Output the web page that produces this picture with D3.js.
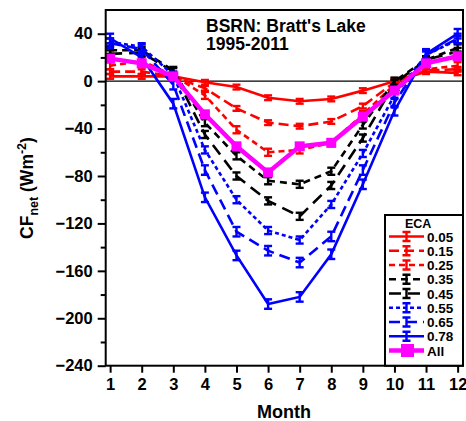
<!DOCTYPE html>
<html>
<head>
<meta charset="utf-8">
<title>BSRN Bratt's Lake CF net</title>
<script src="https://cdn.jsdelivr.net/npm/d3@7"></script>
<style>
  body { margin: 0; background: #fff; }
  svg text { font-family: "Liberation Sans", Arial, sans-serif; font-weight: bold; fill: #000; }
</style>
</head>
<body>
<div id="chart"></div>
<script>
// data
const months = [1, 2, 3, 4, 5, 6, 7, 8, 9, 10, 11, 12];
const ecaLabels = ["0.05", "0.15", "0.25", "0.35", "0.45", "0.55", "0.65", "0.78", "All"];

const eca005 = [4, 4, 4, -1, -5, -14, -17, -15, -8, 0, 8, 7];
const eca015 = [8, 8, 4, -6, -23, -35, -38, -34, -21, -1, 9, 10];
const eca025 = [13, 17, 5, -12, -41, -60, -58, -52, -28, -3, 10, 13];
const eca035 = [26, 26, 9, -35, -63, -84, -87, -76, -37, 0, 18, 28];
const eca045 = [23, 24, 8, -45, -80, -101, -114, -88, -48, -2, 18, 25];
const eca055 = [33, 29, 5, -58, -100, -126, -134, -104, -61, -12, 22, 35];
const eca065 = [32, 27, -3, -75, -127, -143, -153, -131, -75, -18, 22, 36];
const eca078 = [36, 20, -19, -98, -147, -188, -182, -146, -87, -25, 23, 40];
const ecaAll = [19, 15, 4, -28, -55, -77, -55, -52, -30, -8, 15, 21];

// half-width of the error bars per series
const errHalf = [2, 2, 3, 3, 3, 3, 4, 4, 0];

const yTicks = [40, 0, -40, -80, -120, -160, -200, -240];

const seriesValues = [eca005, eca015, eca025, eca035, eca045, eca055, eca065, eca078, ecaAll];
const colors = ["#ff0000", "#ff0000", "#ff0000", "#000000", "#000000", "#0000ff", "#0000ff", "#0000ff", "#ff00ff"];
const dashes = [null, "10,5", "6,4", "7,5", "12,7", "4,3", "11,6", null, null];

const width = 466, height = 421;
const margin = {left: 105.7, right: 3, top: 10, bottom: 55.3};

const svg = d3.select("#chart").append("svg")
    .attr("width", width)
    .attr("height", height);

const x = d3.scaleLinear().domain([0.86, 12.17]).range([margin.left, width - margin.right]);
const y = d3.scaleLinear().domain([-240, 60]).range([height - margin.bottom, margin.top]);

const series = ecaLabels.map((lab, i) => ({
    label: lab,
    color: colors[i],
    dash: dashes[i],
    err: errHalf[i],
    all: lab === "All",
    pts: months.map((m, j) => ({m: m, v: seriesValues[i][j]}))
}));

// zero line
svg.append("line")
    .attr("x1", x.range()[0]).attr("x2", x.range()[1])
    .attr("y1", y(0)).attr("y2", y(0))
    .attr("stroke", "#000").attr("stroke-width", 1.2);

const line = d3.line().x(d => x(d.m)).y(d => y(d.v));

const g = svg.append("g");
series.forEach(s => {
    const sg = g.append("g");
    sg.append("path")
        .datum(s.pts)
        .attr("fill", "none")
        .attr("stroke", s.color)
        .attr("stroke-width", s.all ? 4.5 : 2.6)
        .attr("stroke-dasharray", s.dash)
        .attr("d", line);
    if (s.all) {
        sg.selectAll("rect").data(s.pts).join("rect")
            .attr("x", d => x(d.m) - 5).attr("y", d => y(d.v) - 5)
            .attr("width", 10).attr("height", 10)
            .attr("fill", s.color);
    } else {
        const eb = sg.selectAll("g.eb").data(s.pts).join("g").attr("class", "eb")
            .attr("stroke", s.color).attr("stroke-width", 2.4);
        eb.append("line")
            .attr("x1", d => x(d.m)).attr("x2", d => x(d.m))
            .attr("y1", d => y(d.v + s.err)).attr("y2", d => y(d.v - s.err));
        eb.append("line")
            .attr("x1", d => x(d.m) - 4).attr("x2", d => x(d.m) + 4)
            .attr("y1", d => y(d.v + s.err)).attr("y2", d => y(d.v + s.err));
        eb.append("line")
            .attr("x1", d => x(d.m) - 4).attr("x2", d => x(d.m) + 4)
            .attr("y1", d => y(d.v - s.err)).attr("y2", d => y(d.v - s.err));
    }
});

// frame
svg.append("rect")
    .attr("x", x.range()[0]).attr("y", margin.top)
    .attr("width", x.range()[1] - x.range()[0])
    .attr("height", y.range()[0] - margin.top)
    .attr("fill", "none").attr("stroke", "#000").attr("stroke-width", 2);

// axes
const yAxis = svg.append("g")
    .attr("transform", `translate(${x.range()[0]},0)`)
    .call(d3.axisLeft(y).tickValues(yTicks).tickSize(8).tickPadding(5).tickFormat(d3.format("d")));
const yMinor = svg.append("g")
    .attr("transform", `translate(${x.range()[0]},0)`)
    .call(d3.axisLeft(y).tickValues(d3.range(-220, 60, 40)).tickSize(5).tickFormat(""));
const xAxis = svg.append("g")
    .attr("transform", `translate(0,${y.range()[0]})`)
    .call(d3.axisBottom(x).tickValues(months).tickSize(7).tickPadding(6).tickFormat(d3.format("d")));

[yAxis, yMinor, xAxis].forEach(a => {
    a.select(".domain").remove();
    a.selectAll(".tick line").attr("stroke", "#000").attr("stroke-width", 2);
    a.selectAll("text").attr("font-size", 16.5).attr("font-family", "Liberation Sans, Arial, sans-serif")
        .attr("font-weight", "bold");
});

// title
svg.append("text").attr("x", 206).attr("y", 31.5).attr("font-size", 17.5).text("BSRN: Bratt's Lake");
svg.append("text").attr("x", 206).attr("y", 50).attr("font-size", 17.5).text("1995-2011");

// axis titles
svg.append("text")
    .attr("x", 284).attr("y", 418)
    .attr("text-anchor", "middle").attr("font-size", 18)
    .text("Month");

const yl = svg.append("text")
    .attr("transform", "translate(33,188) rotate(-90)")
    .attr("text-anchor", "middle").attr("font-size", 17.5);
yl.append("tspan").text("CF");
yl.append("tspan").attr("font-size", 12.5).attr("dy", 5).text("net");
yl.append("tspan").attr("dy", -5).text(" (Wm");
yl.append("tspan").attr("font-size", 12.5).attr("dy", -7).text("-2");
yl.append("tspan").attr("dy", 7).text(")");

// legend
const lg = svg.append("g");
const lx0 = 385, ly0 = 215;
lg.append("rect")
    .attr("x", lx0).attr("y", ly0)
    .attr("width", x.range()[1] - lx0).attr("height", y.range()[0] - ly0)
    .attr("fill", "#fff").attr("stroke", "#000").attr("stroke-width", 2);
lg.append("text").attr("x", 405).attr("y", 227.5).attr("font-size", 12.5).text("ECA");
const rowY = d3.scaleLinear().domain([0, 8]).range([236.5, 350.5]);
series.forEach((s, i) => {
    const yy = rowY(i);
    lg.append("line")
        .attr("x1", 389).attr("x2", 424).attr("y1", yy).attr("y2", yy)
        .attr("stroke", s.color).attr("stroke-width", s.all ? 4.5 : 2.6)
        .attr("stroke-dasharray", s.dash);
    if (s.all) {
        lg.append("rect").attr("x", 401).attr("y", yy - 6.5).attr("width", 13).attr("height", 13).attr("fill", s.color);
    } else {
        const cx = 406.5;
        lg.append("path")
            .attr("d", `M${cx},${yy - 4.5}V${yy + 4.5}M${cx - 4},${yy - 4.5}H${cx + 4}M${cx - 4},${yy + 4.5}H${cx + 4}`)
            .attr("stroke", s.color).attr("stroke-width", 2.4).attr("fill", "none");
    }
    lg.append("text").attr("x", 427).attr("y", yy + 5).attr("font-size", 13.5).text(s.label);
});
</script>
</body>
</html>
